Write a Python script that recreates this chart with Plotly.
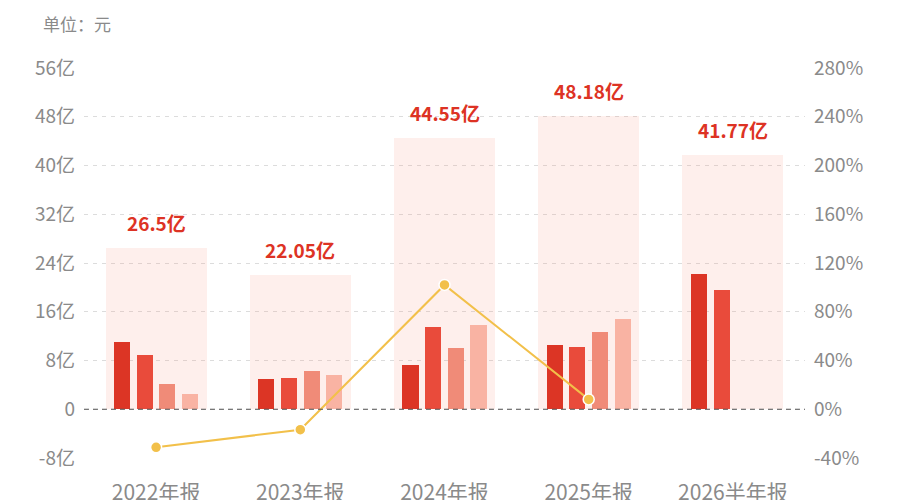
import plotly.graph_objects as go

categories = ["2022年报", "2023年报", "2024年报", "2025年报", "2026半年报"]
totals = [26.5, 22.05, 44.55, 48.18, 41.77]
q1 = [11.0, 5.0, 7.2, 10.57, 22.2]
q2 = [8.9, 5.2, 13.55, 10.23, 19.57]
q3 = [4.1, 6.2, 10.05, 12.6, None]
q4 = [2.5, 5.65, 13.75, 14.78, None]
growth = [-31.2, -16.8, 102.0, 8.1, None]

left_ticks = [-8, 0, 8, 16, 24, 32, 40, 48, 56]
left_labels = ["-8亿", "0", "8亿", "16亿", "24亿", "32亿", "40亿", "48亿", "56亿"]
right_ticks = [-40, 0, 40, 80, 120, 160, 200, 240, 280]
right_labels = ["-40%", "0%", "40%", "80%", "120%", "160%", "200%", "240%", "280%"]

FONT = "Noto Sans CJK SC"
GRAY = "#8a8a8a"
RED_TEXT = "#dd3324"

fig = go.Figure()

# background total bars
fig.add_trace(go.Bar(
    x=categories, y=totals, width=0.7, offset=-0.35,
    marker=dict(color="rgba(248,150,130,0.15)", line=dict(width=0)),
    hoverinfo="skip", showlegend=False,
))

q_series = [q1, q2, q3, q4]
q_colors = ["#dc3525", "#e94b3b", "#f08b78", "#f9b3a3"]
bw = 0.112
centers = [-0.236, -0.0785, 0.0785, 0.236]
for vals, col, c in zip(q_series, q_colors, centers):
    fig.add_trace(go.Bar(
        x=categories, y=vals, width=bw, offset=c - bw / 2,
        marker=dict(color=col, line=dict(width=0)), showlegend=False,
    ))

fig.add_trace(go.Scatter(
    x=categories, y=growth, yaxis="y2", mode="lines+markers",
    line=dict(color="#f2c04a", width=2),
    marker=dict(color="#f2c04a", size=11, line=dict(color="white", width=1.5)),
    showlegend=False, connectgaps=False,
))

for cat, tot in zip(categories, totals):
    fig.add_annotation(
        x=cat, y=tot, xref="x", yref="y", text=f"{tot:g}亿",
        showarrow=False, yanchor="bottom", yshift=10,
        font=dict(family=FONT, size=19, color=RED_TEXT, weight="bold"),
    )

fig.add_annotation(
    x=-0.06, y=1.115, xref="paper", yref="paper", text="单位：元",
    showarrow=False, xanchor="left", yanchor="middle",
    font=dict(family=FONT, size=17, color=GRAY),
)

# dashed zero line
fig.add_shape(type="line", xref="paper", yref="y", x0=0, x1=1, y0=0, y1=0,
              line=dict(color="#555555", width=1.2, dash="5px,4px"))

grid = dict(showgrid=True, gridcolor="#dcdcdc", griddash="4px,5px", gridwidth=1,
            zeroline=False, showline=False, ticks="", automargin=False)

fig.update_layout(
    width=900, height=500,
    margin=dict(l=76, r=103, t=60, b=50),
    paper_bgcolor="white", plot_bgcolor="white",
    barmode="overlay", bargap=0,
    font=dict(family=FONT, size=19, color=GRAY),
    xaxis=dict(type="category", showgrid=False, zeroline=False, showline=False,
               ticks="", ticklabelstandoff=20, automargin=False,
               tickfont=dict(family=FONT, size=21, color=GRAY)),
    yaxis=dict(range=[-8, 56], tickvals=left_ticks, ticktext=left_labels,
               ticklabelstandoff=8, tickfont=dict(family=FONT, size=19, color=GRAY),
               **grid),
    yaxis2=dict(range=[-40, 280], tickvals=right_ticks, ticktext=right_labels,
                overlaying="y", side="right", showgrid=False, zeroline=False,
                showline=False, ticks="", ticklabelstandoff=8, automargin=False,
                tickfont=dict(family=FONT, size=19, color=GRAY)),
)

fig.write_html("out.html")
